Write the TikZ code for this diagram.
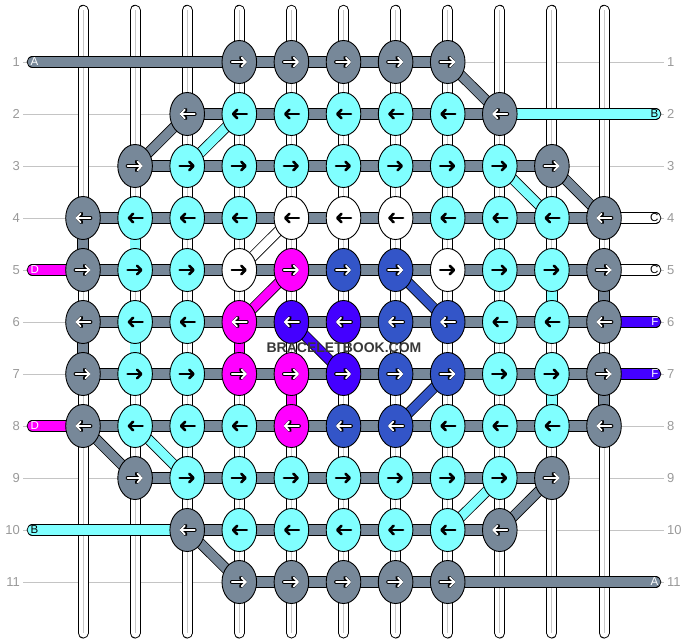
\documentclass[tikz,border=0pt]{standalone}
\usepackage{fontspec}
\setmainfont{Liberation Sans}
\usetikzlibrary{shapes.geometric,arrows.meta}

\definecolor{slate}{HTML}{778899}
\definecolor{aqua}{HTML}{80FFFF}
\definecolor{fuchsia}{HTML}{FF00FF}
\definecolor{royal}{HTML}{3355C8}
\definecolor{indigo}{HTML}{4400FF}
\definecolor{guide}{HTML}{C4C4C4}
\definecolor{rowno}{HTML}{999999}
\definecolor{mark}{HTML}{383838}

\pgfdeclarelayer{strands}
\pgfdeclarelayer{links}
\pgfsetlayers{strands,links,main}

\tikzset{knot/.style={ellipse,draw=black,line width=0.9pt,minimum width=34.6pt,minimum height=43pt,inner sep=0pt,fill=#1,ink #1},
head/.style={line cap=round,-{Straight Barb[round,length=4.2pt,width=8.6pt]}},
ink dark/.style={path picture={
  \draw[head,line width=3.8pt,black] ([xshift=-7.5pt*\dir]path picture bounding box.center) -- ([xshift=7.5pt*\dir]path picture bounding box.center);
  \draw[head,line width=1.8pt,white] ([xshift=-7.5pt*\dir]path picture bounding box.center) -- ([xshift=7.5pt*\dir]path picture bounding box.center);}},
ink light/.style={path picture={
  \draw[head,line width=2.6pt,black] ([xshift=-7.5pt*\dir]path picture bounding box.center) -- ([xshift=7.5pt*\dir]path picture bounding box.center);}},
ink slate/.style={ink dark},
ink fuchsia/.style={ink dark},
ink royal/.style={ink dark},
ink indigo/.style={ink dark},
ink aqua/.style={ink light},
ink white/.style={ink light},
band/.style={draw=black,line width=0.9pt,double=#1,double distance=9.4pt,line cap=round},
slant/.style={draw=black,line width=0.8pt,double=#1,double distance=9pt},
strand/.style={draw=black,line width=1pt,double=white,double distance=9pt,line cap=round},
core/.style={draw=black!22,line width=1pt},
guide/.style={draw=guide,line width=0.9pt},
row no/.style={font=\fontsize{13}{15}\selectfont,text=rowno,inner sep=3pt},
tag/.style={font=\fontsize{11.5}{13}\selectfont,inner sep=0pt},
brand/.style={font=\bfseries\fontsize{14}{16}\selectfont,text=mark,inner sep=0pt}}

\begin{document}
\begin{tikzpicture}[x=1pt,y=-1pt]
\useasboundingbox (0,0) rectangle (688,644);

%% knot places
\foreach \r in {1,...,11}
  \foreach \c in {1,...,11}
    \coordinate (p\r-\c) at ({83+52.1*(\c-1)},{62+52*(\r-1)});

%% knots, row by row (odd rows point right, even rows left)
\def\dir{1}
\foreach \c/\k in {4/slate,5/slate,6/slate,7/slate,8/slate}
  \node[knot=\k] (k1-\c) at (p1-\c) {};
\def\dir{-1}
\foreach \c/\k in {3/slate,4/aqua,5/aqua,6/aqua,7/aqua,8/aqua,9/slate}
  \node[knot=\k] (k2-\c) at (p2-\c) {};
\def\dir{1}
\foreach \c/\k in {2/slate,3/aqua,4/aqua,5/aqua,6/aqua,7/aqua,8/aqua,9/aqua,10/slate}
  \node[knot=\k] (k3-\c) at (p3-\c) {};
\def\dir{-1}
\foreach \c/\k in {1/slate,2/aqua,3/aqua,4/aqua,5/white,6/white,7/white,8/aqua,9/aqua,10/aqua,11/slate}
  \node[knot=\k] (k4-\c) at (p4-\c) {};
\def\dir{1}
\foreach \c/\k in {1/slate,2/aqua,3/aqua,4/white,5/fuchsia,6/royal,7/royal,8/white,9/aqua,10/aqua,11/slate}
  \node[knot=\k] (k5-\c) at (p5-\c) {};
\def\dir{-1}
\foreach \c/\k in {1/slate,2/aqua,3/aqua,4/fuchsia,5/indigo,6/indigo,7/royal,8/royal,9/aqua,10/aqua,11/slate}
  \node[knot=\k] (k6-\c) at (p6-\c) {};
\def\dir{1}
\foreach \c/\k in {1/slate,2/aqua,3/aqua,4/fuchsia,5/fuchsia,6/indigo,7/royal,8/royal,9/aqua,10/aqua,11/slate}
  \node[knot=\k] (k7-\c) at (p7-\c) {};
\def\dir{-1}
\foreach \c/\k in {1/slate,2/aqua,3/aqua,4/aqua,5/fuchsia,6/royal,7/royal,8/aqua,9/aqua,10/aqua,11/slate}
  \node[knot=\k] (k8-\c) at (p8-\c) {};
\def\dir{1}
\foreach \c/\k in {2/slate,3/aqua,4/aqua,5/aqua,6/aqua,7/aqua,8/aqua,9/aqua,10/slate}
  \node[knot=\k] (k9-\c) at (p9-\c) {};
\def\dir{-1}
\foreach \c/\k in {3/slate,4/aqua,5/aqua,6/aqua,7/aqua,8/aqua,9/slate}
  \node[knot=\k] (k10-\c) at (p10-\c) {};
\def\dir{1}
\foreach \c/\k in {4/slate,5/slate,6/slate,7/slate,8/slate}
  \node[knot=\k] (k11-\c) at (p11-\c) {};

%% loose ends of the threads
\coordinate (tl1) at (32.3,62);
\coordinate (tl5) at (32.3,270);
\coordinate (tl8) at (32.3,426);
\coordinate (tl10) at (32.3,530);
\coordinate (tr2) at (655.7,114);
\coordinate (tr4) at (655.7,218);
\coordinate (tr5) at (655.7,270);
\coordinate (tr6) at (655.7,322);
\coordinate (tr7) at (655.7,374);
\coordinate (tr11) at (655.7,582);

\node[tag,anchor=west,text=white] (tagl1) at (30.5,62) {A};
\node[tag,anchor=west,text=white] (tagl5) at (30.5,270) {D};
\node[tag,anchor=west,text=white] (tagl8) at (30.5,426) {D};
\node[tag,anchor=west] (tagl10) at (30.5,530) {B};
\node[tag,anchor=east] (tagr2) at (658.5,114) {B};
\node[tag,anchor=east] (tagr4) at (658.5,218) {C};
\node[tag,anchor=east] (tagr5) at (658.5,270) {C};
\node[tag,anchor=east,text=white] (tagr6) at (658.5,322) {F};
\node[tag,anchor=east,text=white] (tagr7) at (658.5,374) {F};
\node[tag,anchor=east,text=white] (tagr11) at (658.5,582) {A};

\node[brand] (brand) at (344,348) {BRACELETBOOK.COM};

\begin{pgfonlayer}{links}
%% rows
\draw[band=slate] (k1-4.center) -- (k1-8.center);
\draw[band=slate] (k2-3.center) -- (k2-9.center);
\draw[band=slate] (k3-2.center) -- (k3-10.center);
\draw[band=slate] (k4-1.center) -- (k4-11.center);
\draw[band=slate] (k5-1.center) -- (k5-11.center);
\draw[band=slate] (k6-1.center) -- (k6-11.center);
\draw[band=slate] (k7-1.center) -- (k7-11.center);
\draw[band=slate] (k8-1.center) -- (k8-11.center);
\draw[band=slate] (k9-2.center) -- (k9-10.center);
\draw[band=slate] (k10-3.center) -- (k10-9.center);
\draw[band=slate] (k11-4.center) -- (k11-8.center);

%% tails
\draw[band=slate] (tl1) -- (k1-4.center);
\draw[band=fuchsia] (tl5) -- (k5-1.center);
\draw[band=fuchsia] (tl8) -- (k8-1.center);
\draw[band=aqua] (tl10) -- (k10-3.center);
\draw[band=aqua] (k2-9.center) -- (tr2);
\draw[band=white] (k4-11.center) -- (tr4);
\draw[band=white] (k5-11.center) -- (tr5);
\draw[band=indigo] (k6-11.center) -- (tr6);
\draw[band=indigo] (k7-11.center) -- (tr7);
\draw[band=slate] (k11-8.center) -- (tr11);

%% turns down a column
\draw[band=slate] (k4-1.center) -- (k5-1.center);
\draw[band=slate] (k6-1.center) -- (k7-1.center);
\draw[band=aqua] (k4-2.center) -- (k5-2.center);
\draw[band=aqua] (k6-2.center) -- (k7-2.center);
\draw[band=fuchsia] (k6-4.center) -- (k7-4.center);
\draw[band=fuchsia] (k7-5.center) -- (k8-5.center);
\draw[band=aqua] (k5-10.center) -- (k6-10.center);
\draw[band=aqua] (k7-10.center) -- (k8-10.center);
\draw[band=slate] (k5-11.center) -- (k6-11.center);
\draw[band=slate] (k7-11.center) -- (k8-11.center);

%% diagonals
\draw[slant=slate] (k1-8.center) -- (k2-9.center);
\draw[slant=slate] (k2-3.center) -- (k3-2.center);
\draw[slant=aqua] (k2-4.center) -- (k3-3.center);
\draw[slant=slate] (k3-10.center) -- (k4-11.center);
\draw[slant=aqua] (k3-9.center) -- (k4-10.center);
\draw[slant=white] (k4-5.center) -- (k5-4.center);
\draw[slant=fuchsia] (k5-5.center) -- (k6-4.center);
\draw[slant=royal] (k5-7.center) -- (k6-8.center);
\draw[slant=indigo] (k6-5.center) -- (k7-6.center);
\draw[slant=royal] (k7-8.center) -- (k8-7.center);
\draw[slant=slate] (k8-1.center) -- (k9-2.center);
\draw[slant=aqua] (k8-2.center) -- (k9-3.center);
\draw[slant=aqua] (k9-9.center) -- (k10-8.center);
\draw[slant=slate] (k9-10.center) -- (k10-9.center);
\draw[slant=slate] (k10-3.center) -- (k11-4.center);
\end{pgfonlayer}

\begin{pgfonlayer}{strands}
%% row numbers and guide lines
\foreach \r in {1,...,11} {
  \node[row no,anchor=east] (nl\r) at (23,{62+52*(\r-1)}) {\r};
  \node[row no,anchor=west] (nr\r) at (664,{62+52*(\r-1)}) {\r};
  \draw[guide] (nl\r.east) -- (nr\r.west);
}
%% vertical strands
\foreach \c in {1,...,11} {
  \coordinate (st\c) at ({83+52.1*(\c-1)},10.3);
  \coordinate (sb\c) at ({83+52.1*(\c-1)},633);
  \draw[strand] (st\c) -- (sb\c);
  \draw[core] (st\c) -- (sb\c);
}
\end{pgfonlayer}

\end{tikzpicture}
\end{document}
